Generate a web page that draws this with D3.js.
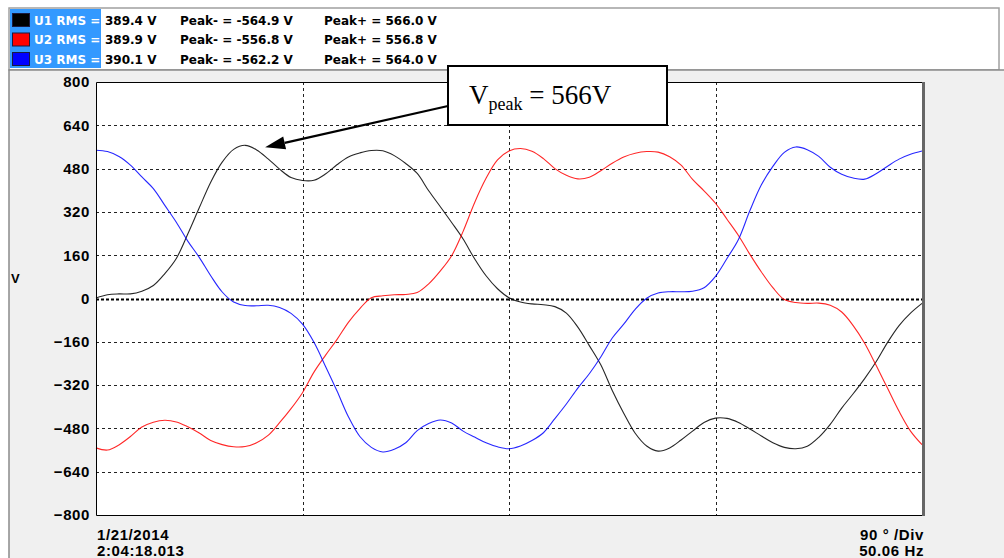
<!DOCTYPE html>
<html>
<head>
<meta charset="utf-8">
<script src="https://cdn.jsdelivr.net/npm/d3@7"></script>
<style>
  html, body { margin: 0; padding: 0; background: #ffffff; }
  svg { display: block; }
</style>
</head>
<body>
<svg id="chart" width="1004" height="558"></svg>
<script>
// Phase angle in degrees, one sample every 5°
const angles = d3.range(0, 361, 5);

// Phase voltages (V) at each angle
const u1Volts = [2, 14, 17, 17, 27, 48, 92, 148, 238, 335, 430, 504, 551, 566, 549, 516, 478, 447, 436, 437,
  460, 494, 523, 538, 547, 546, 528, 499, 462, 398, 340, 281, 220, 147, 84, 36, 3, -13, -20, -23,
  -30, -54, -106, -174, -245, -340, -424, -498, -545, -564, -552, -523, -490, -458, -442, -443, -458, -482, -508, -533,
  -550, -555, -546, -513, -465, -405, -352, -296, -234, -162, -100, -54, -18];

const u2Volts = [-552, -560, -541, -510, -475, -457, -450, -456, -474, -497, -525, -540, -548, -547, -533, -506, -459, -407, -348, -272,
  -210, -152, -88, -37, 3, 10, 14, 15, 22, 54, 101, 158, 248, 354, 444, 512, 545, 554, 544, 517,
  480, 455, 442, 448, 472, 500, 523, 537, 543, 541, 524, 493, 440, 398, 352, 293, 233, 163, 98, 40,
  -4, -15, -18, -17, -25, -50, -100, -165, -247, -332, -417, -490, -540];

const u3Volts = [548, 543, 525, 493, 449, 406, 344, 282, 212, 152, 84, 24, -13, -26, -27, -25, -33, -55, -95, -162,
  -250, -341, -437, -510, -550, -567, -557, -533, -488, -462, -449, -460, -490, -512, -533, -548, -555, -545, -525, -496,
  -444, -390, -331, -278, -216, -146, -95, -40, 1, 20, 25, 25, 27, 40, 82, 148, 218, 325, 420, 488,
  540, 560, 550, 525, 485, 459, 445, 441, 461, 489, 515, 533, 545];

const seriesNames = ["U1", "U2", "U3"];
const seriesColors = ["#000000", "#ff0000", "#0000ff"];
const rmsLabels = ["389.4 V", "389.9 V", "390.1 V"];
const peakMinus = ["-564.9 V", "-556.8 V", "-562.2 V"];
const peakPlus = ["566.0 V", "556.8 V", "564.0 V"];

const yTicks = [800, 640, 480, 320, 160, 0, -160, -320, -480, -640, -800];
const xTicks = [0, 90, 180, 270, 360];

const peakValue = 566;
const peakAngle = 65;

const svg = d3.select("#chart");
const W = 1004, H = 558;
const plot = { left: 96, right: 922, top: 82, bottom: 515 };

const x = d3.scaleLinear().domain([0, 360]).range([plot.left, plot.right]);
const y = d3.scaleLinear().domain([-800, 800]).range([plot.bottom, plot.top]);

// ---- window chrome ----
svg.append("rect").attr("x", 0).attr("y", 0).attr("width", W).attr("height", H).attr("fill", "#ffffff");
// header strip
svg.append("rect").attr("x", 9).attr("y", 8).attr("width", 990).attr("height", 62)
  .attr("fill", "#ffffff").attr("stroke", "#a0a0a0").attr("stroke-width", 1.5);
// graph panel
svg.append("rect").attr("x", 9).attr("y", 70).attr("width", 1000).attr("height", 500)
  .attr("fill", "#f0f0f0").attr("stroke", "#8a8a8a").attr("stroke-width", 1.5);

// ---- legend / readout rows ----
const header = svg.append("g").attr("font-family", "DejaVu Sans, Verdana, sans-serif")
  .attr("font-weight", "bold").attr("font-size", "12px");
header.append("rect").attr("x", 10).attr("y", 9).attr("width", 91).attr("height", 59).attr("fill", "#3399ff");
seriesNames.forEach((name, i) => {
  const cy = 20 + i * 19.5;
  header.append("rect").attr("x", 12.5).attr("y", cy - 6.5).attr("width", 17).attr("height", 13)
    .attr("fill", seriesColors[i]).attr("stroke", "#1a1a40").attr("stroke-width", 1);
  header.append("text").attr("x", 34).attr("y", cy + 4.5).attr("fill", "#ffffff").text(name + " RMS =");
  header.append("text").attr("x", 105).attr("y", cy + 4.5).attr("fill", "#000").text(rmsLabels[i]);
  header.append("text").attr("x", 180).attr("y", cy + 4.5).attr("fill", "#000").text("Peak- = " + peakMinus[i]);
  header.append("text").attr("x", 324).attr("y", cy + 4.5).attr("fill", "#000").text("Peak+ = " + peakPlus[i]);
});

// ---- plot area ----
svg.append("rect").attr("x", plot.left).attr("y", plot.top)
  .attr("width", plot.right - plot.left).attr("height", plot.bottom - plot.top).attr("fill", "#ffffff");

const grid = svg.append("g");
yTicks.filter(v => v !== 800 && v !== -800).forEach(v => {
  grid.append("line").attr("x1", plot.left).attr("x2", plot.right)
    .attr("y1", Math.round(y(v)) + 0.5).attr("y2", Math.round(y(v)) + 0.5)
    .attr("stroke", v === 0 ? "#000" : "#222")
    .attr("stroke-width", v === 0 ? 2.2 : 1)
    .attr("stroke-dasharray", v === 0 ? "3,2" : "3,3");
});
xTicks.filter(d => d !== 0 && d !== 360).forEach(d => {
  grid.append("line").attr("y1", plot.top).attr("y2", plot.bottom)
    .attr("x1", Math.round(x(d)) + 0.5).attr("x2", Math.round(x(d)) + 0.5)
    .attr("stroke", "#222").attr("stroke-width", 1).attr("stroke-dasharray", "3,3");
});

// y axis
const yAxis = d3.axisLeft(y).tickValues(yTicks).tickSize(0).tickPadding(6);
const yg = svg.append("g").attr("transform", `translate(${plot.left},0)`).call(yAxis);
yg.select(".domain").remove();
yg.selectAll("text").attr("font-family", "Liberation Sans, Arial, sans-serif")
  .attr("font-weight", "bold").attr("font-size", "15px").attr("fill", "#000")
  .attr("letter-spacing", "0.6px");

svg.append("text").attr("x", 11).attr("y", 283).attr("font-family", "Liberation Sans, Arial, sans-serif")
  .attr("font-weight", "bold").attr("font-size", "13px").text("V");

// ---- waveforms ----
const line = d3.line().x((d, i) => x(angles[i])).y(d => y(d)).curve(d3.curveCatmullRom.alpha(0.5));
const lines = svg.append("g").attr("fill", "none").attr("stroke-width", 1.1);
[u1Volts, u2Volts, u3Volts].forEach((vals, i) => {
  lines.append("path").datum(vals).attr("d", line).attr("stroke", seriesColors[i]).attr("opacity", 0.85);
});

// plot frame
svg.append("path")
  .attr("d", `M${plot.right},${plot.top + 0.5} H${plot.left + 0.5} V${plot.bottom + 0.5} H${plot.right}`)
  .attr("fill", "none").attr("stroke", "#000").attr("stroke-width", 1);
svg.append("line").attr("x1", plot.right + 1.5).attr("x2", plot.right + 1.5)
  .attr("y1", plot.top).attr("y2", plot.bottom + 1)
  .attr("stroke", "#666").attr("stroke-width", 3);

// bottom labels
const foot = svg.append("g").attr("font-family", "Liberation Sans, Arial, sans-serif")
  .attr("font-weight", "bold").attr("font-size", "15px").attr("letter-spacing", "0.6px");
foot.append("text").attr("x", 97).attr("y", 540).text("1/21/2014");
foot.append("text").attr("x", 97).attr("y", 556).text("2:04:18.013");
foot.append("text").attr("x", 924).attr("y", 540).attr("text-anchor", "end").text("90 ° /Div");
foot.append("text").attr("x", 924).attr("y", 556).attr("text-anchor", "end").text("50.06 Hz");

// ---- peak annotation ----
const tipX = x(peakAngle) + 20, tipY = y(peakValue) + 2;
const boxX = 448, boxY = 66, boxW = 219, boxH = 59;
const startX = boxX, startY = 106;
const ang = Math.atan2(tipY - startY, tipX - startX);
const headLen = 20, headHalf = 6.5;
const baseX = tipX - headLen * Math.cos(ang), baseY = tipY - headLen * Math.sin(ang);
svg.append("line").attr("x1", startX).attr("y1", startY).attr("x2", baseX).attr("y2", baseY)
  .attr("stroke", "#000").attr("stroke-width", 2.2);
svg.append("path")
  .attr("d", `M${tipX},${tipY} L${baseX - headHalf * Math.sin(ang)},${baseY + headHalf * Math.cos(ang)} L${baseX + headHalf * Math.sin(ang)},${baseY - headHalf * Math.cos(ang)} Z`)
  .attr("fill", "#000");
svg.append("rect").attr("x", boxX).attr("y", boxY).attr("width", boxW).attr("height", boxH)
  .attr("fill", "#ffffff").attr("stroke", "#000").attr("stroke-width", 2);
const ann = svg.append("text").attr("x", 469).attr("y", 104)
  .attr("font-family", "Liberation Serif, Times New Roman, serif").attr("font-size", "27px").attr("fill", "#000");
ann.append("tspan").text("V");
ann.append("tspan").attr("font-size", "18px").attr("dy", 6).text("peak");
ann.append("tspan").attr("dy", -6).text(" = " + peakValue + "V");
</script>
</body>
</html>
